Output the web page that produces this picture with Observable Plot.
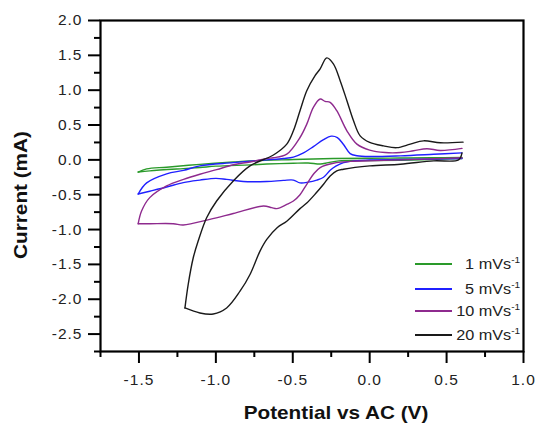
<!DOCTYPE html>
<html><head><meta charset="utf-8">
<script src="https://cdn.jsdelivr.net/npm/d3@7"></script>
<script src="https://cdn.jsdelivr.net/npm/@observablehq/plot@0.6"></script>
<style>
body{margin:0;background:#fff;}
#wrap{position:relative;width:537px;height:423px;font-family:"Liberation Sans",Arial,sans-serif;overflow:hidden;}
#wrap svg text{letter-spacing:1px;}
.ttl{position:absolute;font-weight:bold;font-size:18.5px;line-height:1;color:#111;white-space:nowrap;}
.lg-line{position:absolute;height:0;border-top:2px solid;}
.lg-txt{position:absolute;font-size:14.5px;line-height:1;color:#222;white-space:nowrap;transform:translateY(-50%) scaleX(1.12);transform-origin:right center;}
.lg-txt sup{font-size:9px;vertical-align:6px;}
</style></head><body><div id="wrap"></div>
<script>
const seriesNames = ["1 mVs", "5 mVs", "10 mVs", "20 mVs"];
const seriesColors = ["#2a9a2a", "#2020ff", "#8e2a8e", "#1a1a1a"];
const xTicks = [-1.5, -1.0, -0.5, 0.0, 0.5, 1.0];
const xMinorTicks = [-1.75, -1.25, -0.75, -0.25, 0.25, 0.75];
const yTicks = [2.0, 1.5, 1.0, 0.5, 0.0, -0.5, -1.0, -1.5, -2.0, -2.5];
const yMinorTicks = [1.75, 1.25, 0.75, 0.25, -0.25, -0.75, -1.25, -1.75, -2.25, -2.75];

// 1 mV/s
const v1Fwd = [-1.505,-1.45,-1.32,-1.104,-0.887,-0.778,-0.496,-0.236,0.0,0.2,0.4,0.6];
const i1Fwd = [-0.175,-0.13,-0.105,-0.065,-0.03,-0.014,0.005,0.02,0.024,0.026,0.03,0.035];
const v1Rev = [0.6,0.4,0.2,0.0,-0.2,-0.27,-0.32,-0.4,-0.496,-0.67,-0.778,-1.0,-1.104,-1.212,-1.43,-1.505];
const i1Rev = [0.02,0.005,-0.005,-0.01,-0.015,-0.04,-0.06,-0.045,-0.048,-0.06,-0.072,-0.09,-0.11,-0.125,-0.158,-0.175];

// 5 mV/s
const v5Fwd = [-1.505,-1.45,-1.32,-1.21,-1.104,-0.887,-0.669,-0.561,-0.496,-0.43,-0.366,-0.30,-0.25,-0.21,-0.17,-0.127,-0.083,0.0,0.2,0.416,0.6];
const i5Fwd = [-0.49,-0.33,-0.2,-0.15,-0.086,-0.04,0.0,0.02,0.04,0.1,0.19,0.29,0.34,0.32,0.22,0.09,0.06,0.048,0.058,0.08,0.1];
const v5Rev = [0.6,0.4,0.2,0.0,-0.1,-0.17,-0.22,-0.257,-0.3,-0.344,-0.4,-0.453,-0.496,-0.561,-0.669,-0.822,-0.93,-1.0,-1.104,-1.212,-1.32,-1.43,-1.505];
const i5Rev = [0.02,0.01,0.005,0.0,-0.015,-0.04,-0.09,-0.15,-0.25,-0.29,-0.32,-0.33,-0.29,-0.295,-0.31,-0.31,-0.28,-0.265,-0.29,-0.326,-0.39,-0.45,-0.49];

// 10 mV/s
const v10Fwd = [-1.505,-1.483,-1.43,-1.32,-1.21,-1.104,-0.995,-0.887,-0.778,-0.669,-0.626,-0.539,-0.453,-0.409,-0.366,-0.322,-0.29,-0.257,-0.214,-0.148,-0.083,0.0,0.1,0.2,0.285,0.372,0.459,0.6];
const i10Fwd = [-0.916,-0.734,-0.542,-0.374,-0.28,-0.206,-0.14,-0.07,-0.03,0.02,0.03,0.082,0.321,0.513,0.753,0.873,0.84,0.825,0.705,0.417,0.226,0.14,0.105,0.105,0.13,0.16,0.135,0.165];
const v10Rev = [0.6,0.416,0.2,0.0,-0.105,-0.236,-0.322,-0.366,-0.409,-0.453,-0.496,-0.539,-0.604,-0.637,-0.691,-0.887,-1.039,-1.212,-1.277,-1.429,-1.505];
const i10Rev = [0.03,0.015,0.0,-0.014,-0.02,-0.048,-0.11,-0.206,-0.35,-0.5,-0.59,-0.64,-0.70,-0.686,-0.662,-0.77,-0.854,-0.935,-0.916,-0.916,-0.916];

// 20 mV/s
const v20Fwd = [-1.201,-1.18,-1.147,-1.115,-1.06,-0.995,-0.887,-0.778,-0.626,-0.539,-0.496,-0.453,-0.409,-0.355,-0.322,-0.279,-0.236,-0.192,-0.148,-0.105,-0.062,0.0,0.09,0.177,0.264,0.35,0.459,0.607];
const i20Fwd = [-2.125,-1.789,-1.405,-1.165,-0.83,-0.59,-0.302,-0.086,0.07,0.226,0.417,0.705,0.993,1.209,1.305,1.463,1.377,1.137,0.849,0.561,0.345,0.25,0.2,0.175,0.226,0.273,0.245,0.255];
const v20Rev = [0.6,0.578,0.416,0.199,0.0,-0.17,-0.214,-0.257,-0.3,-0.35,-0.409,-0.453,-0.539,-0.6,-0.669,-0.713,-0.778,-0.843,-0.93,-1.017,-1.104,-1.201];
const i20Rev = [0.1,0.0,-0.014,-0.062,-0.086,-0.134,-0.158,-0.23,-0.35,-0.48,-0.62,-0.70,-0.88,-0.97,-1.141,-1.309,-1.645,-1.885,-2.125,-2.211,-2.197,-2.125];

const branches = [
  [seriesNames[0], "fwd", v1Fwd, i1Fwd], [seriesNames[0], "rev", v1Rev, i1Rev],
  [seriesNames[1], "fwd", v5Fwd, i5Fwd], [seriesNames[1], "rev", v5Rev, i5Rev],
  [seriesNames[2], "fwd", v10Fwd, i10Fwd], [seriesNames[2], "rev", v10Rev, i10Rev],
  [seriesNames[3], "fwd", v20Fwd, i20Fwd], [seriesNames[3], "rev", v20Rev, i20Rev]
];
const rows = [];
for (const [s, b, vs, is] of branches) vs.forEach((v, k) => rows.push({series: s, key: s + b, v, i: is[k]}));

const fmt = d => d.toFixed(1);
const chart = Plot.plot({
  width: 537, height: 423,
  marginLeft: 100, marginRight: 14, marginTop: 20, marginBottom: 72,
  x: {domain: [-1.75, 1.0]},
  y: {domain: [-2.75, 2.0]},
  color: {domain: seriesNames, range: seriesColors},
  style: {fontFamily: "Liberation Sans, Arial, sans-serif", fontSize: "15.5px", background: "#fff", overflow: "visible"},
  marks: [
    Plot.axisX({ticks: xMinorTicks, tickSize: 6, tickFormat: () => "", stroke: "#000", strokeWidth: 2, label: null}),
    Plot.axisX({ticks: xTicks, tickSize: 12, tickPadding: 10, tickFormat: fmt, stroke: "#000", fill: "#222", strokeWidth: 2, label: null}),
    Plot.axisY({ticks: yMinorTicks, tickSize: 6, tickFormat: () => "", stroke: "#000", strokeWidth: 2, label: null}),
    Plot.axisY({ticks: yTicks, tickSize: 12, tickPadding: 6, tickFormat: fmt, stroke: "#000", fill: "#222", strokeWidth: 2, label: null}),
    Plot.line(rows, {x: "v", y: "i", z: "key", stroke: "series", strokeWidth: 1.4, curve: "catmull-rom"}),
    Plot.frame({stroke: "#000", strokeWidth: 2.2})
  ]
});
const wrap = document.getElementById("wrap");
wrap.appendChild(chart);

// axis titles
const yt = document.createElement("div");
yt.className = "ttl"; yt.textContent = "Current (mA)";
yt.style.left = "20.5px"; yt.style.top = "195px";
yt.style.transform = "translate(-50%,-50%) rotate(-90deg) scaleX(1.12)";
wrap.appendChild(yt);
const xt = document.createElement("div");
xt.className = "ttl"; xt.textContent = "Potential vs AC (V)";
xt.style.left = "336px"; xt.style.top = "413px";
xt.style.transform = "translate(-50%,-50%) scaleX(1.12)";
wrap.appendChild(xt);

// legend
const legendY = [264, 289, 311, 335];
seriesNames.forEach((name, k) => {
  const ln = document.createElement("div");
  ln.className = "lg-line";
  ln.style.left = "415px"; ln.style.width = "37px"; ln.style.top = (legendY[k] - 1) + "px";
  ln.style.borderTopColor = seriesColors[k];
  wrap.appendChild(ln);
  const tx = document.createElement("div");
  tx.className = "lg-txt";
  tx.style.right = "17px"; tx.style.top = legendY[k] + "px";
  tx.innerHTML = name + "<sup>-1</sup>";
  wrap.appendChild(tx);
});
</script></body></html>
